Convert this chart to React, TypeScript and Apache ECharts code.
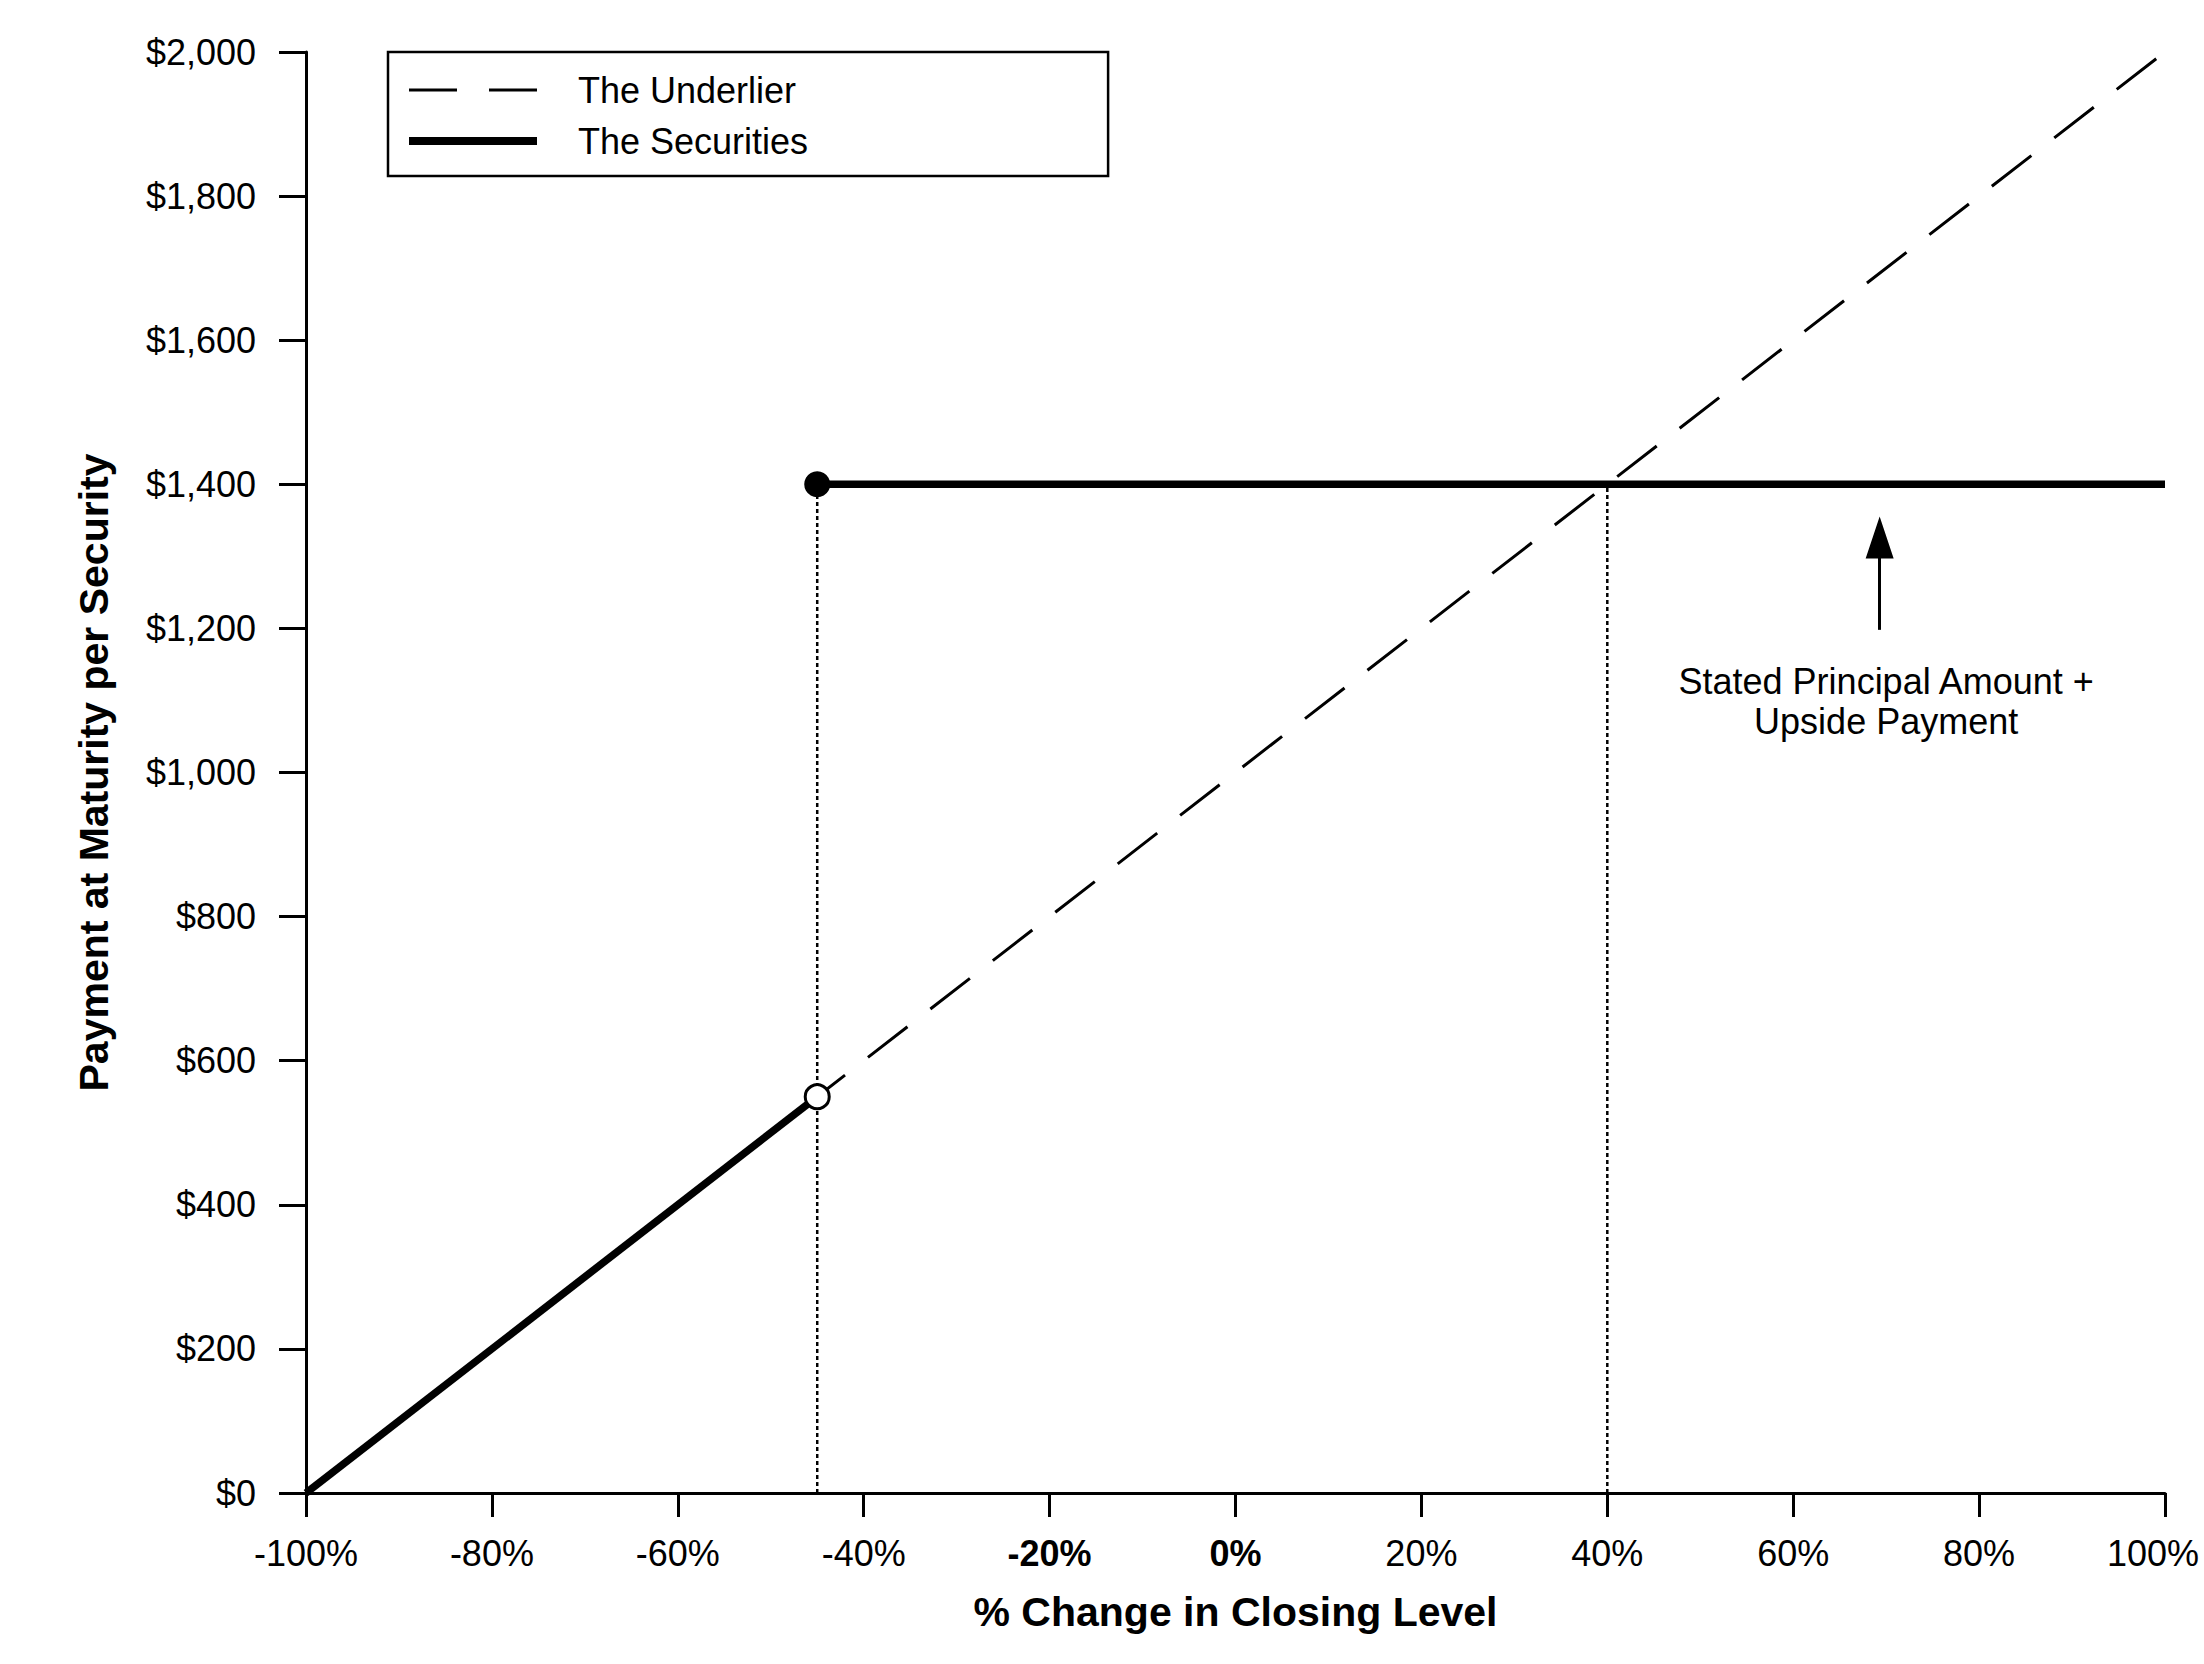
import React, { useEffect, useRef } from "react";
import * as echarts from "echarts";

// ---- data ----
const underlierX = [-100, 100];
const underlierY = [0, 2000];
const securitiesLowX = [-100, -45];
const securitiesLowY = [0, 550];
const securitiesHighX = [-45, 100];
const securitiesHighY = [1400, 1400];
const thresholdX = [-45, 40];
const thresholdTopY = [1400, 1400];
const arrowX = 69.3;
const arrowY = [1198, 1326];
const noteX = 70;
const noteY = 1098;
const noteText = "Stated Principal Amount +\nUpside Payment";
const xMin = -100, xMax = 100, xStep = 20;
const yMin = 0, yMax = 2000, yStep = 200;
const boldTicks = [-20, 0];
const legendNames = ["The Underlier", "The Securities"];

const FONT = "'Liberation Sans', Arial, Helvetica, sans-serif";

export default function App() {
  const ref = useRef<HTMLDivElement>(null);
  useEffect(() => {
    if (!ref.current) return;
    const chart = echarts.init(ref.current, undefined, { renderer: "svg" });
    const pairs = (xs: number[], ys: number[]) => xs.map((x, i) => [x, ys[i]]);
    const option: any = {
      animation: false,
      backgroundColor: "#fff",
      textStyle: { fontFamily: FONT, color: "#000" },
      grid: { left: 306, right: 39, top: 52, bottom: 171, containLabel: false },
      legend: {
        show: true,
        left: 388,
        top: 52,
        orient: "vertical",
        padding: [18, 300, 15, 17],
        itemWidth: 128,
        itemHeight: 20,
        itemGap: 11,
        borderColor: "#000",
        borderWidth: 2.5,
        borderRadius: 0,
        backgroundColor: "#fff",
        itemStyle: { opacity: 0 },
        selectedMode: false,
        textStyle: { fontFamily: FONT, fontSize: 36, color: "#000", lineHeight: 40, padding: [0, 0, 0, 36] },
        data: [
          { name: legendNames[0], lineStyle: { type: [48, 32], width: 3, color: "#000" }, itemStyle: { opacity: 0 } },
          { name: legendNames[1], lineStyle: { type: "solid", width: 8, color: "#000" }, itemStyle: { opacity: 0 } },
        ],
      },
      xAxis: {
        type: "value",
        min: xMin,
        max: xMax,
        interval: xStep,
        name: "% Change in Closing Level",
        nameLocation: "middle",
        nameGap: 98,
        nameTextStyle: { fontFamily: FONT, fontSize: 41, fontWeight: "bold", color: "#000" },
        axisLine: { show: true, onZero: false, lineStyle: { color: "#000", width: 3 } },
        axisTick: { show: true, length: 24, lineStyle: { color: "#000", width: 3 } },
        splitLine: { show: false },
        axisLabel: {
          fontFamily: FONT,
          fontSize: 36,
          color: "#000",
          margin: 42,
          formatter: (v: number) =>
            boldTicks.includes(v) ? `{b|${v}%}` : v === xMax ? `{e|${v}%}` : `${v}%`,
          rich: {
            b: { fontFamily: FONT, fontSize: 36, fontWeight: "bold", color: "#000" },
            e: { fontFamily: FONT, fontSize: 36, color: "#000", padding: [0, 24, 0, 0] },
          },
        },
      },
      yAxis: {
        type: "value",
        min: yMin,
        max: yMax,
        interval: yStep,
        name: "Payment at Maturity per Security",
        nameLocation: "middle",
        nameGap: 192,
        nameTextStyle: { fontFamily: FONT, fontSize: 41, fontWeight: "bold", color: "#000" },
        axisLine: { show: true, onZero: false, lineStyle: { color: "#000", width: 3 } },
        axisTick: { show: true, length: 27, lineStyle: { color: "#000", width: 3 } },
        splitLine: { show: false },
        axisLabel: {
          fontFamily: FONT,
          fontSize: 36,
          color: "#000",
          margin: 50,
          formatter: (v: number) => "$" + v.toLocaleString("en-US"),
        },
      },
      series: [
        {
          name: legendNames[0],
          type: "line",
          data: pairs(underlierX, underlierY),
          symbol: "none",
          lineStyle: { color: "#000", width: 3, type: [50, 29] },
          z: 2,
        },
        {
          name: "threshold-a",
          type: "line",
          data: [[thresholdX[0], yMin], [thresholdX[0], thresholdTopY[0]]],
          symbol: "none",
          lineStyle: { color: "#000", width: 2.5, type: [4, 3] },
          z: 3,
        },
        {
          name: "threshold-b",
          type: "line",
          data: [[thresholdX[1], yMin], [thresholdX[1], thresholdTopY[1]]],
          symbol: "none",
          lineStyle: { color: "#000", width: 2.5, type: [4, 3] },
          z: 3,
        },
        {
          name: legendNames[1],
          type: "line",
          showSymbol: true,
          data: [
            { value: [securitiesLowX[0], securitiesLowY[0]], symbol: "none" },
            {
              value: [securitiesLowX[1], securitiesLowY[1]],
              symbol: "circle",
              symbolSize: 24,
              itemStyle: { color: "#fff", borderColor: "#000", borderWidth: 3 },
            },
          ],
          lineStyle: { color: "#000", width: 7.5 },
          itemStyle: { color: "#000" },
          z: 4,
        },
        {
          name: legendNames[1],
          type: "line",
          showSymbol: true,
          data: [
            {
              value: [securitiesHighX[0], securitiesHighY[0]],
              symbol: "circle",
              symbolSize: 26,
              itemStyle: { color: "#000", borderColor: "#000", borderWidth: 0 },
            },
            { value: [securitiesHighX[1], securitiesHighY[1]], symbol: "none" },
          ],
          lineStyle: { color: "#000", width: 7.5 },
          itemStyle: { color: "#000" },
          z: 4,
        },
        {
          name: "annotation",
          type: "scatter",
          data: [[noteX, noteY]],
          symbolSize: 0,
          silent: true,
          itemStyle: { color: "#000", opacity: 1 },
          label: {
            show: true,
            position: "inside",
            formatter: noteText,
            fontFamily: FONT,
            fontSize: 36,
            lineHeight: 40,
            color: "#000",
            opacity: 1,
            textBorderWidth: 0,
            textBorderColor: "transparent",
            align: "center",
          },
          markLine: {
            silent: true,
            symbol: ["none", "triangle"],
            symbolSize: [28, 42],
            label: { show: false },
            lineStyle: { color: "#000", width: 3, type: "solid", opacity: 1 },
            itemStyle: { color: "#000", opacity: 1 },
            data: [[{ coord: [arrowX, arrowY[0]] }, { coord: [arrowX, arrowY[1]] }]],
          },
          z: 5,
        },
      ],
    };
    chart.setOption(option);
    return () => chart.dispose();
  }, []);
  return (
    <div
      ref={ref}
      style={{ position: "absolute", left: 0, top: 0, width: 2204, height: 1664, background: "#fff" }}
    />
  );
}
